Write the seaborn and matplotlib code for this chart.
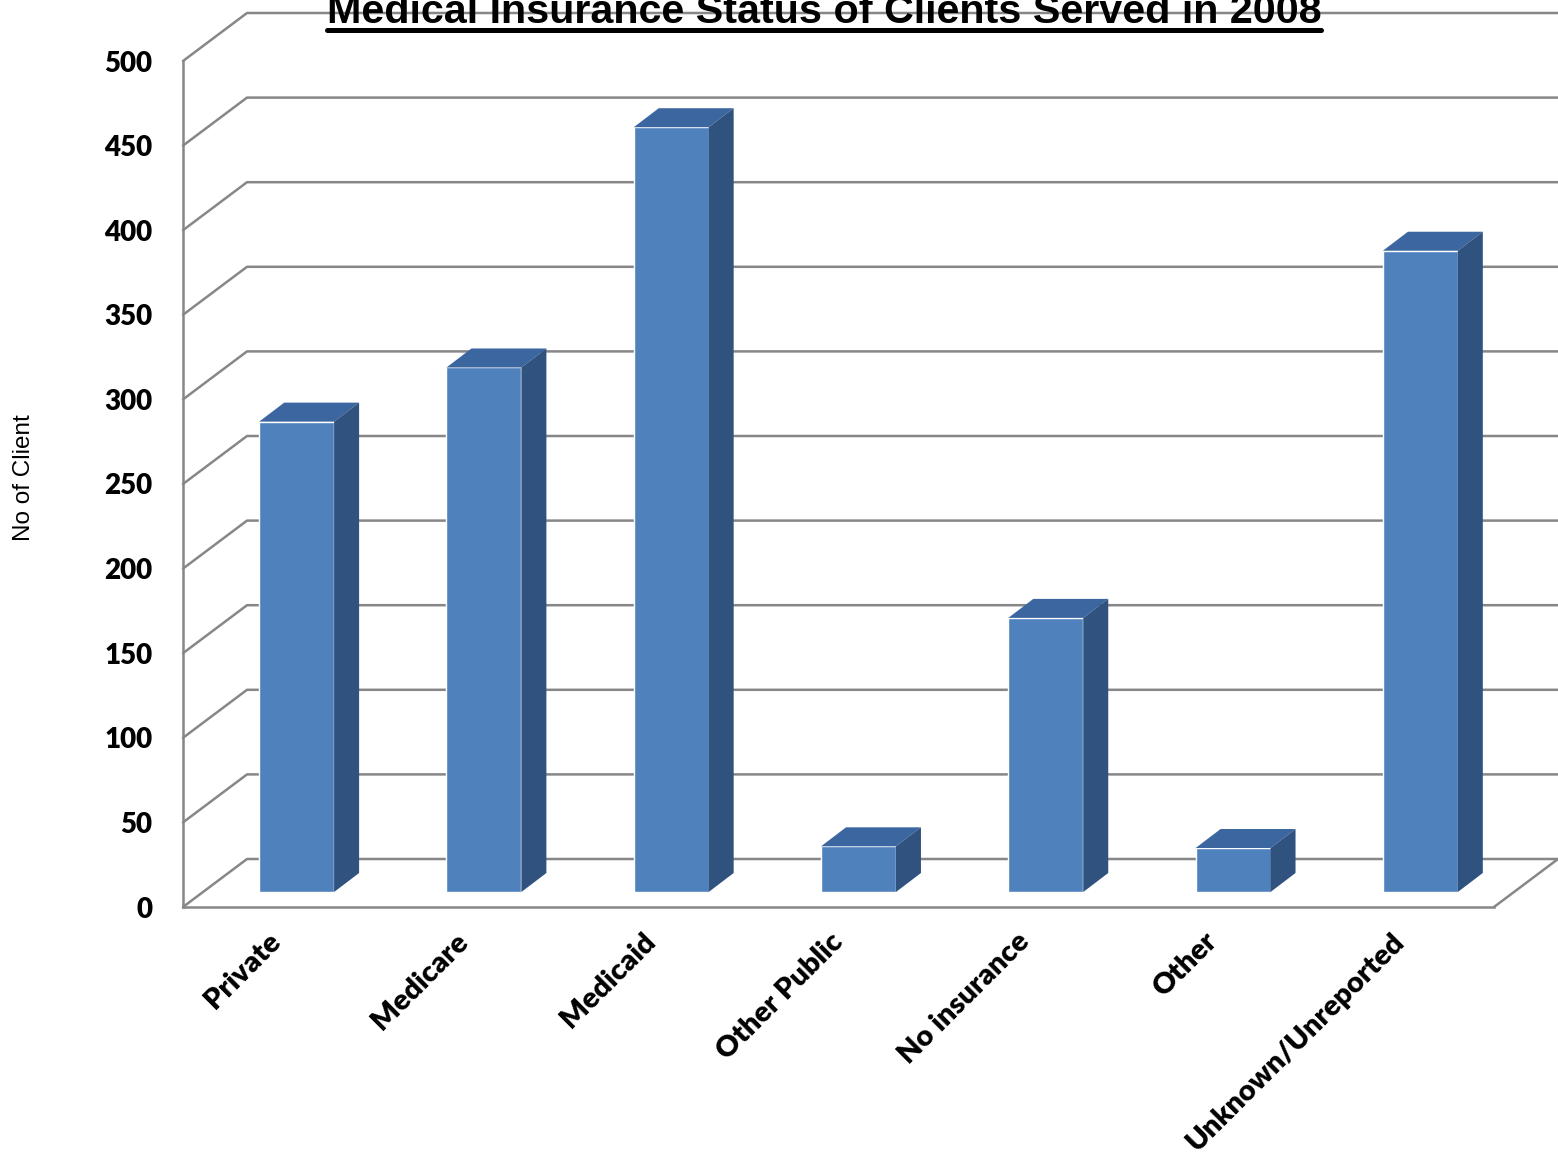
import matplotlib
matplotlib.use('Agg')
import matplotlib.pyplot as plt
from matplotlib.patches import Polygon
from matplotlib.lines import Line2D
import numpy as np
import pandas as pd
import seaborn as sns

# data
categories = ['Private', 'Medicare', 'Medicaid', 'Other Public',
              'No insurance', 'Other', 'Unknown/Unreported']
clients = [278, 310, 452, 27, 162, 26, 379]
y_ticks = list(range(0, 501, 50))
title = 'Medical Insurance Status of Clients Served in 2008'

W, H = 1558, 1161
FRONT = '#4F81BD'
TOP = '#3C66A0'
SIDE = '#30527F'
GRID = '#878787'

sns.set_style('white')
plt.rcParams['font.family'] = ['Lato', 'DejaVu Sans']
plt.rcParams['text.color'] = 'black'

fig = plt.figure(figsize=(W / 100, H / 100), dpi=100)
# front plane of the fake 3D box: x 183..1494 px, y 907 (0) .. 61 (500)
ax = fig.add_axes([183 / W, 1 - 907 / H, 1311 / W, 846 / H])

df = pd.DataFrame({'category': categories, 'clients': clients})
sns.barplot(data=df, x='category', y='clients', color=FRONT, width=0.4,
            saturation=1, ax=ax, zorder=3)
ax.set_xlim(-0.5, 6.5)
ax.set_ylim(0, 500)

# pixel -> data conversions for the depth offsets
px_x = 1311 / 7
px_y = 846 / 500
wall_dx, wall_dy = 64 / px_x, 48 / px_y
bar_dx, bar_dy = 20 / px_x, 15 / px_y
depth_dx, depth_dy = 25 / px_x, 19 / px_y

# back wall, left wall and floor lines
x_right = -0.5 + (W + 20 - 183) / px_x
for t in y_ticks:
    ax.plot([-0.5, -0.5 + wall_dx, x_right], [t, t + wall_dy, t + wall_dy],
            color=GRID, lw=1.8, clip_on=False, zorder=1)
ax.plot([6.5, 6.5 + wall_dx], [0, wall_dy], color=GRID, lw=1.8,
        clip_on=False, zorder=1)

# turn the flat bars into boxes
for p in list(ax.patches):
    x0 = p.get_x() + bar_dx
    w = p.get_width()
    h = p.get_height()
    p.set_x(x0)
    p.set_y(bar_dy)
    p.set_clip_on(False)
    y0, y1 = bar_dy, bar_dy + h
    top = Polygon([(x0, y1), (x0 + w, y1), (x0 + w + depth_dx, y1 + depth_dy),
                   (x0 + depth_dx, y1 + depth_dy)], closed=True,
                  facecolor=TOP, edgecolor='none', zorder=3, clip_on=False)
    side = Polygon([(x0 + w, y0), (x0 + w + depth_dx, y0 + depth_dy),
                    (x0 + w + depth_dx, y1 + depth_dy), (x0 + w, y1)],
                   closed=True, facecolor=SIDE, edgecolor='none', zorder=3,
                   clip_on=False)
    ax.add_patch(top)
    ax.add_patch(side)

for s in ['top', 'right']:
    ax.spines[s].set_visible(False)
for s in ['left', 'bottom']:
    ax.spines[s].set_color(GRID)
    ax.spines[s].set_linewidth(1.8)
    ax.spines[s].set_zorder(2)

ax.set_yticks(y_ticks)
ax.tick_params(axis='y', length=5, width=1.8, color=GRID, labelsize=20,
               pad=17, labelcolor='black')
for lbl in ax.get_yticklabels():
    lbl.set_fontweight('heavy')

ax.set_xticks(np.arange(-0.5, 7, 1), minor=True)
ax.tick_params(axis='x', which='minor', length=7, width=1.8, color=GRID)
ax.tick_params(axis='x', which='major', length=0, pad=22, labelcolor='black')
ax.set_xticks(range(len(categories)))
ax.set_xticklabels(categories, rotation=45, ha='right', va='center',
                   rotation_mode='anchor', fontsize=21, fontweight='heavy')
ax.set_xlabel('')
ax.set_ylabel('')

fig.text(24 / W, 1 - 478 / H, 'No of Client', rotation=90, ha='center',
         va='center', fontsize=17.5, color='black',
         family=['Liberation Sans', 'DejaVu Sans'])

t = fig.text(824 / W, 1 - 23 / H, title, ha='center', va='baseline',
             fontsize=29.7, fontweight='bold', color='black',
             family=['Liberation Sans', 'DejaVu Sans'])
fig.canvas.draw()
bb = t.get_window_extent()
fig.add_artist(Line2D([bb.x0 / W, bb.x1 / W], [1 - 29.5 / H] * 2,
                      color='black', lw=3.6, transform=fig.transFigure))

fig.savefig('out.png', dpi=100)
